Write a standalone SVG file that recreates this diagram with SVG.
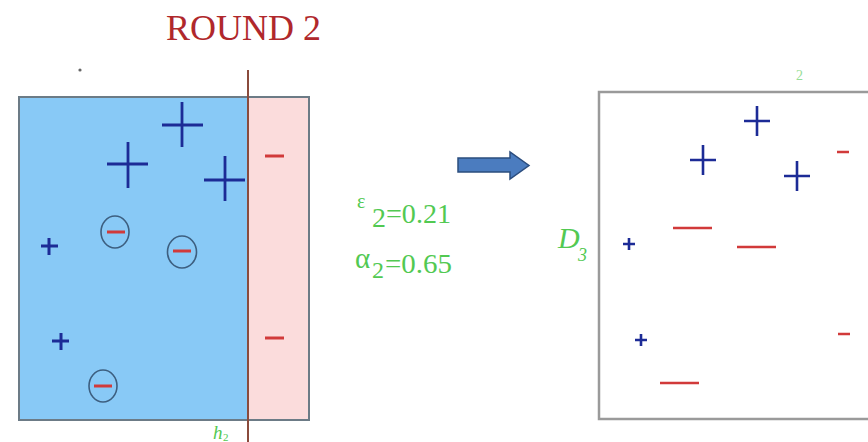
<svg xmlns="http://www.w3.org/2000/svg" width="868" height="442" viewBox="0 0 868 442">
<style>
.pl{stroke:#1c2b96;stroke-linecap:butt;fill:none}
.mi{stroke:#d13a3a;fill:none}
.ci{fill:none;stroke:#3d5f80;stroke-width:1.6}
.g{fill:#52c952;font-family:"Liberation Serif",serif}
</style>
<rect width="868" height="442" fill="#ffffff"/>
<text x="243.5" y="40" text-anchor="middle" font-family="Liberation Serif, serif" font-size="36" fill="#b0282c">ROUND 2</text>
<circle cx="80" cy="70" r="1.6" fill="#666"/>
<g id="left-box">
<rect x="19" y="97" width="229" height="323" fill="#88c9f6"/>
<rect x="248" y="97" width="61" height="323" fill="#fbdcdc"/>
<rect x="19" y="97" width="290" height="323" fill="none" stroke="#6c7b86" stroke-width="2"/>
</g>
<g id="left-points">
<path class="pl" stroke-width="2.8" d="M162 125h41M182 102v45"/>
<path class="pl" stroke-width="2.8" d="M107 164h41M128 142v46"/>
<path class="pl" stroke-width="2.8" d="M204 180h41M225 156v45"/>
<path class="pl" stroke-width="3" d="M41 246h17M49 238v17"/>
<path class="pl" stroke-width="3" d="M52 341h17M61 333v17"/>
<ellipse class="ci" cx="115" cy="232" rx="14" ry="16"/>
<path class="mi" stroke-width="3" d="M107 232h18"/>
<ellipse class="ci" cx="182" cy="252" rx="14.5" ry="16"/>
<path class="mi" stroke-width="3" d="M173 251h18"/>
<ellipse class="ci" cx="103" cy="386" rx="14" ry="16"/>
<path class="mi" stroke-width="3" d="M94 386h18"/>
<path class="mi" stroke-width="3" d="M265 156h19M265 338h19"/>
</g>
<g id="hypothesis">
<line x1="248" y1="70" x2="248" y2="442" stroke="#8a4b3c" stroke-width="2"/>
<text class="g" x="213" y="439" font-size="19" font-style="italic">h</text>
<text class="g" x="223" y="441" font-size="11">2</text>
</g>
<g id="connectors">
<path d="M458 158H510V152L529 165.5L510 179V172H458Z" fill="#4b7cbf" stroke="#2b4d7e" stroke-width="1.5"/>
</g>
<g id="stats">
<text class="g" x="357" y="208" font-size="20">ε</text>
<text class="g" x="372" y="227" font-size="28">2</text>
<text class="g" x="386" y="223" font-size="28" textLength="65" lengthAdjust="spacingAndGlyphs">=0.21</text>
<text class="g" x="355" y="268" font-size="29">α</text>
<text class="g" x="372" y="278" font-size="24">2</text>
<text class="g" x="385" y="273" font-size="28" textLength="67" lengthAdjust="spacingAndGlyphs">=0.65</text>
</g>
<g id="right-box">
<rect x="599" y="92" width="290" height="327" fill="none" stroke="#9a9a9a" stroke-width="2.5"/>
<text class="g" x="558" y="248" font-size="30" font-style="italic">D</text>
<text class="g" x="578" y="261" font-size="18" font-style="italic">3</text>
<text class="g" x="796" y="80" font-size="14" opacity="0.6">2</text>
</g>
<g id="right-points">
<path class="pl" stroke-width="2.6" d="M744 121h26M757 106v30"/>
<path class="pl" stroke-width="2.6" d="M690 160h26M703 145v30"/>
<path class="pl" stroke-width="2.6" d="M784 176h26M797 161v30"/>
<path class="pl" stroke-width="2.6" d="M623 244h12M629 238v12"/>
<path class="pl" stroke-width="2.6" d="M635 340h12M641 334v12"/>
<path class="mi" stroke-width="2.6" d="M837 152h12M838 334h12"/>
<path class="mi" stroke-width="2.6" d="M673 228h39M737 247h39M660 383h39"/>
</g>
</svg>
